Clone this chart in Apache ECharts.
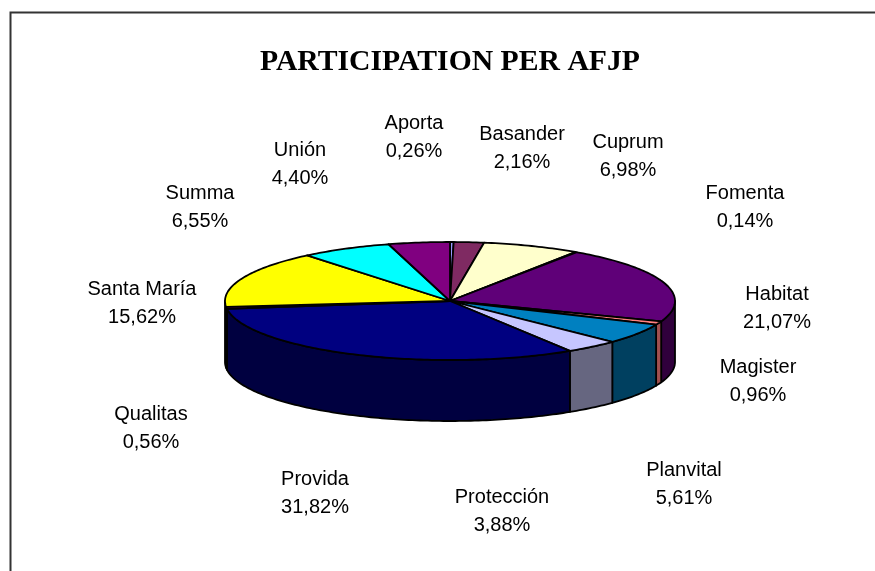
<!DOCTYPE html>
<html><head><meta charset="utf-8">
<style>html,body{margin:0;padding:0;background:#fff}#c{width:875px;height:571px}</style>
<script src="https://cdn.jsdelivr.net/npm/echarts@6/dist/echarts.min.js"></script>
</head><body><div id="c"></div>
<script>
const titleText = 'PARTICIPATION PER AFJP';
const names = ['Aporta','Basander','Cuprum','Fomenta','Habitat','Magister','Planvital','Protección','Provida','Qualitas','Santa María','Summa','Unión'];
const shares = [0.26,2.16,6.98,0.14,21.07,0.96,5.61,3.88,31.82,0.56,15.62,6.55,4.40];
const topColors = ['#9999FF','#7F2A62','#FFFFCC','#CCFFFF','#5F0078','#FF8080','#0080C0','#C6C6FF','#000080','#FF00FF','#FFFF00','#00FFFF','#800080'];
const sideColors = ['#4C4C80','#401531','#808066','#668080','#30003C','#A05050','#004060','#666680','#000040','#800080','#808000','#008080','#400040'];
// label centre positions (first line), one per category
const labelX = [414,522,628,745,777,758,684,502,315,151,142,200,300];
const labelY = [123,134,142,193,294,367,470,497,479,414,289,193,150];

const cx = 450, cy = 301, rx = 225, ry = 59, depth = 61;
const total = shares.reduce((a,b)=>a+b,0);
const cum = []; shares.reduce((a,b,i)=>(cum[i]=a,a+b),0);
const pt = (deg, dy=0) => { const t = deg*Math.PI/180; return [cx+rx*Math.sin(t), cy-ry*Math.cos(t)+dy]; };
function arc(a, b, dy=0){ const n = Math.max(2, Math.ceil(Math.abs(b-a))); const out=[]; for(let i=0;i<=n;i++) out.push(pt(a+(b-a)*i/n, dy)); return out; }
const range = i => [cum[i]/total*360, (cum[i]+shares[i])/total*360];
const dataset = names.map((n,i)=>[i, shares[i]]);
const lineStyle = {stroke:'#000', lineWidth:1.8, lineJoin:'round'};

const chart = echarts.init(document.getElementById('c'), null, {renderer:'canvas'});
chart.setOption({
  animation:false,
  backgroundColor:'#fff',
  title:{text:titleText,left:255,top:42,
    textStyle:{fontFamily:'Liberation Serif',fontWeight:'bold',fontSize:29.7,color:'#000'}},
  graphic:[{type:'polyline',silent:true,shape:{points:[[10.5,571],[10.5,12.5],[875,12.5]]},style:{stroke:'#333',lineWidth:2,fill:null}}],
  xAxis:{show:false},yAxis:{show:false},
  series:[
    {type:'custom',coordinateSystem:'none',silent:true,z:2,data:dataset,
     renderItem:(p,api)=>{
       const i=api.value(0); let [a,b]=range(i);
       a=Math.max(a,90); b=Math.min(b,270);
       if(b<=a) return {type:'group',children:[]};
       const pts=arc(a,b,0).concat(arc(b,a,depth));
       return {type:'polygon',shape:{points:pts},style:{fill:sideColors[i],...lineStyle}};
     }},
    {type:'custom',coordinateSystem:'none',silent:true,z:3,data:dataset,
     renderItem:(p,api)=>{
       const i=api.value(0); const [a,b]=range(i);
       const pts=[[cx,cy]].concat(arc(a,b));
       return {type:'polygon',shape:{points:pts},style:{fill:topColors[i],...lineStyle}};
     }},
    {type:'custom',coordinateSystem:'none',silent:true,z:4,data:dataset,
     renderItem:(p,api)=>{
       const i=api.value(0);
       const pct=api.value(1).toFixed(2).replace('.',',')+'%';
       return {type:'group',children:[names[i],pct].map((t,k)=>({type:'text',
         style:{text:t,x:labelX[i],y:labelY[i]+k*28,align:'center',verticalAlign:'middle',
         font:'20px "Liberation Sans"',fill:'#000'}}))};
     }}
  ]
});
</script></body></html>
